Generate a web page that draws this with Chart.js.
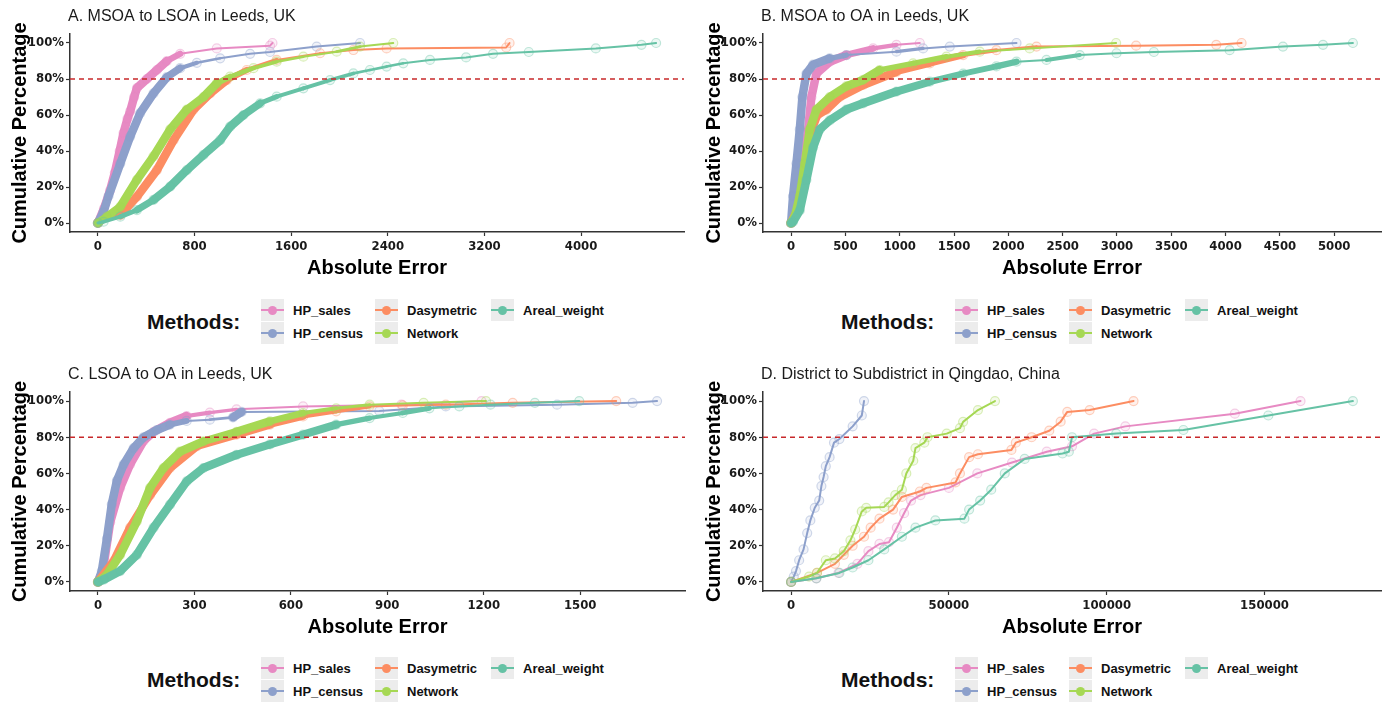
<!DOCTYPE html>
<html>
<head>
<meta charset="utf-8">
<script src="https://cdn.jsdelivr.net/npm/chart.js@4"></script>
<style>
  body { margin: 0; background: #fff; width: 1389px; height: 704px; position: relative; overflow: hidden;
         font-family: 'Liberation Sans', Arial, sans-serif; }
  canvas { position: absolute; }
  .lg { position: absolute; white-space: nowrap; color: #111; }
</style>
</head>
<body>
<canvas id="cA" width="694" height="290" style="left:0;top:0"></canvas>
<canvas id="cB" width="695" height="290" style="left:694px;top:0"></canvas>
<canvas id="cC" width="694" height="290" style="left:0;top:358px"></canvas>
<canvas id="cD" width="695" height="290" style="left:694px;top:358px"></canvas>
<script>
// methods and colours (Set2)
const methods = ['HP_sales', 'HP_census', 'Dasymetric', 'Network', 'Areal_weight'];
const methodColors = ['#E78AC3', '#8DA0CB', '#FC8D62', '#A6D854', '#66C2A5'];
const pctTicks = [0, 20, 40, 60, 80, 100];
const refPct = 80;

// tick labels of the x axes
const ticksA = [0, 800, 1600, 2400, 3200, 4000];
const ticksB = [0, 500, 1000, 1500, 2000, 2500, 3000, 3500, 4000, 4500, 5000];
const ticksC = [0, 300, 600, 900, 1200, 1500];
const ticksD = [0, 50000, 100000, 150000];

// [absolute error, cumulative %]
// A. MSOA to LSOA
const A_HP_sales = [[0,0],[50,8],[100,18],[140,28],[180,40],[212,50],[245,58],[267,62],[300,70],[323,75],[405,80],[488,85],[571,90],[681,94],[984,97],[1425,98.5],[1445,100]];
const A_HP_census = [[0,0],[45,6],[88,15],[185,33],[267,48],[350,61],[460,72],[571,81],[681,86],[819,89],[1012,91.5],[1260,94],[1425,95],[1811,98],[2170,100]];
const A_Dasymetric = [[0,0],[185,4.4],[323,14.6],[488,29.4],[626,46],[791,63],[929,72],[1067,79.4],[1232,85],[1480,90.6],[1839,94.3],[2115,96.1],[2390,97],[3380,97.5],[3408,100]];
const A_Network = [[0,0],[74,3.5],[185,9],[323,24],[460,37],[598,52],[736,63],[874,70],[984,77.6],[1094,81.3],[1288,86],[1480,89.6],[1701,92.4],[1977,95.2],[2170,98],[2445,100]];
const A_Areal_weight = [[0,0],[47,0.7],[185,3.5],[323,7.2],[460,12.8],[598,20.2],[736,29.4],[874,37.8],[1012,46],[1094,53.5],[1205,60],[1343,66.5],[1480,70.2],[1701,74.8],[1922,79.4],[2115,83.1],[2252,85],[2390,86.9],[2528,88.7],[2749,90.6],[3048,92],[3271,94],[3567,95],[4122,97],[4500,99],[4621,100]];

// B. MSOA to OA
const B_HP_sales = [[0,0],[49,5],[110,33],[157,52],[187,70],[233,83],[356,89.6],[509,93.3],[755,97],[970,99],[1185,100]];
const B_HP_census = [[0,0],[18,15],[49,33],[80,52],[104,70],[141,83],[203,88],[356,91.5],[509,93.3],[970,95.2],[1215,97],[1461,98],[2075,100]];
const B_Dasymetric = [[0,0],[80,10],[120,20],[160,40],[190,52],[240,60],[325,63],[448,70],[663,76.7],[970,84],[1277,88.7],[1584,93.3],[1890,96],[2259,98],[3176,98.5],[3914,99],[4147,100]];
const B_Network = [[0,0],[34,3.5],[80,15],[126,33],[172,52],[233,63],[356,70],[509,76],[663,79.5],[816,85],[1123,88.7],[1430,92.4],[1737,95.2],[2197,97],[2992,100]];
const B_Areal_weight = [[0,0],[18,0.7],[80,7],[141,24],[203,42],[264,52],[356,57],[509,63],[663,66.5],[970,73],[1277,78.5],[1584,83],[1890,87],[2075,89.6],[2351,90.6],[2658,93.3],[2996,94.3],[3340,95],[4037,96],[4528,98],[4897,99],[5172,100]];

// C. LSOA to OA
const C_HP_sales = [[0,0],[15,6],[38,33],[69,52],[100,65],[142,78],[173,83],[224,88],[276,91.7],[348,93.6],[431,95.4],[638,97],[944,98],[1193,100]];
const C_HP_census = [[0,0],[12,6],[28,24],[43,43],[59,56],[80,65],[111,74],[142,80],[183,84],[224,87],[276,89],[348,89.7],[420,91],[447,94],[875,94.5],[1082,97],[1428,98],[1663,99],[1739,100]];
const C_Dasymetric = [[0,0],[49,11.4],[100,30],[162,48],[224,63],[307,75],[431,81.4],[535,87],[638,91.5],[741,94.3],[845,97],[948,97.6],[1082,98],[1290,99],[1612,100]];
const C_Network = [[0,0],[28,4],[69,15],[121,33.5],[162,52],[204,63],[255,72],[328,77.7],[431,83],[535,88.8],[638,93.4],[741,96],[845,98],[1013,99],[1207,100]];
const C_Areal_weight = [[0,0],[18,1.3],[69,6],[121,15],[173,30],[224,42.7],[276,55.6],[328,63],[431,70.3],[535,76],[638,81.4],[741,87],[845,90.6],[948,93.4],[1031,96],[1124,97],[1221,98],[1359,99],[1497,100]];

// D. District to Subdistrict, Qingdao
const D_HP_sales = [[0,0],[8000,2],[15000,5],[21000,10],[24500,17],[28000,21],[31000,22],[33500,30],[35800,38],[38000,45],[41000,48],[50000,52],[59000,60],[70000,66],[81000,72],[89000,75],[96000,82],[105900,86],[140600,93],[161400,100]];
const D_HP_census = [[0,0],[850,3],[1550,6],[2550,12],[3950,18],[5100,27],[6100,34],[7500,41],[8900,45],[9600,53],[10300,58],[11000,64],[12200,69],[13600,77],[15300,79],[19500,86],[22400,92],[23100,100]];
const D_Dasymetric = [[0,0],[8200,5],[13900,10],[16700,15],[19500,20],[23100,25],[25200,30],[28000,35],[32300,40],[35100,47],[40800,50],[42900,52],[52100,55],[53500,60],[56400,69],[59200,70.6],[69800,73],[71200,77],[76200,80],[81800,83.6],[85400,88.6],[87500,94],[94600,95],[108500,100]];
const D_Network = [[0,0],[5700,3],[8200,5],[11000,12],[13900,13],[16700,17],[18800,23],[20300,29],[22400,39],[23800,41],[29500,41.5],[30900,44],[33000,48],[35100,51],[36500,60],[38700,67],[39400,74],[42200,77],[43200,80],[49300,82],[53500,85],[54500,88.5],[59200,95],[64600,100]];
const D_Areal_weight = [[0,0],[8000,2],[15300,5],[19500,8],[24500,12],[29500,18],[35100,25],[39400,30],[45700,34],[54900,35],[56400,40],[59900,45],[63400,51],[67700,60],[74000,68],[86000,71],[88000,72],[89000,80],[103000,82],[124300,84],[151200,92],[178000,100]];

// how crowded the points are on each panel (drives the band width)
const crowdA = 482, crowdB = 1000, crowdC = 1000, crowdD = 60;

const fontFam = "'Liberation Sans', Arial, sans-serif";
const tickFam = "'Liberation Sans Narrow', 'Arial Narrow', 'DejaVu Sans Condensed', 'Liberation Sans', sans-serif";
const axisColor = '#333333';

const withAlpha = (hex, a) =>
  `rgba(${parseInt(hex.slice(1, 3), 16)}, ${parseInt(hex.slice(3, 5), 16)}, ${parseInt(hex.slice(5, 7), 16)}, ${a})`;

// thick band where the real points crowd together
const bandWidth = (c, pts, n) => {
  if (c.p1DataIndex === pts.length - 1) return 2;
  const dp = Math.abs(pts[c.p1DataIndex][1] - pts[c.p0DataIndex][1]) / 100;
  const dist = Math.hypot(c.p1.x - c.p0.x, c.p1.y - c.p0.y) || 1;
  const rate = n * dp / dist;
  return Math.max(2, Math.min(8.5, 2 + (rate - 0.4) * 5));
};

const refLine = {
  id: 'refLine',
  afterDatasetsDraw(chart) {
    const {ctx, chartArea, scales: {y}} = chart;
    const py = y.getPixelForValue(refPct);
    ctx.save();
    ctx.strokeStyle = '#c8282a';
    ctx.lineWidth = 1.5;
    ctx.setLineDash([5, 4]);
    ctx.beginPath();
    ctx.moveTo(chartArea.left, py);
    ctx.lineTo(chartArea.right, py);
    ctx.stroke();
    ctx.restore();
  }
};

const panelTitle = {
  id: 'panelTitle',
  afterDraw(chart, args, opts) {
    const {ctx, chartArea} = chart;
    ctx.save();
    ctx.font = '16px ' + fontFam;
    ctx.fillStyle = '#1a1a1a';
    ctx.textBaseline = 'middle';
    ctx.fillText(opts.text, chartArea.left - 2, opts.y);
    ctx.restore();
  }
};

const drawPanel = (id, title, series, xTicks, n, cfg) => {
  const xMax = Math.max(...series.map(s => s[s.length - 1][0]));
  const datasets = series.map((pts, i) => ({
    label: methods[i],
    data: pts.map(p => ({x: p[0], y: p[1]})),
    borderColor: methodColors[i],
    borderWidth: 2,
    borderJoinStyle: 'round',
    borderCapStyle: 'round',
    pointRadius: 4.5,
    pointBorderWidth: 1.2,
    pointBorderColor: withAlpha(methodColors[i], 0.4),
    pointBackgroundColor: withAlpha(methodColors[i], 0.12),
    order: series.length - 1 - i,
    segment: {borderWidth: c => bandWidth(c, pts, n)}
  }));
  new Chart(document.getElementById(id), {
    type: 'line',
    data: {datasets},
    plugins: [refLine, panelTitle],
    options: {
      responsive: false,
      animation: false,
      layout: {padding: {top: cfg.top, right: cfg.right, left: 0, bottom: 0}},
      plugins: {
        legend: {display: false},
        tooltip: {enabled: false},
        panelTitle: {text: title, y: 17}
      },
      scales: {
        x: {
          type: 'linear',
          min: -0.05 * xMax,
          max: 1.05 * xMax,
          afterBuildTicks: s => { s.ticks = xTicks.map(v => ({value: v})); },
          afterFit: s => { s.height = cfg.xh; },
          grid: {drawOnChartArea: false, drawTicks: true, tickLength: 4, tickColor: axisColor, tickWidth: 1.2},
          border: {color: axisColor, width: 1.5},
          ticks: {font: {family: tickFam, size: 13, weight: 'bold'}, color: '#1a1a1a', padding: 3,
                  maxRotation: 0, autoSkip: false, callback: v => String(v)},
          title: {display: true, text: 'Absolute Error', color: '#000',
                  font: {family: fontFam, size: 20, weight: 'bold'}, padding: {top: 0, bottom: cfg.xtp}}
        },
        y: {
          type: 'linear',
          min: -5,
          max: 105,
          afterBuildTicks: s => { s.ticks = pctTicks.map(v => ({value: v})); },
          afterFit: s => { s.width = cfg.yw; },
          grid: {drawOnChartArea: false, drawTicks: true, tickLength: 4, tickColor: axisColor, tickWidth: 1.2},
          border: {color: axisColor, width: 1.5},
          ticks: {font: {family: tickFam, size: 13, weight: 'bold'}, color: '#1a1a1a', padding: 2,
                  callback: v => v + '%'},
          title: {display: true, text: 'Cumulative Percentage', color: '#000',
                  font: {family: fontFam, size: 20, weight: 'bold'}, padding: {top: 8, bottom: 0}}
        }
      }
    }
  });
};

drawPanel('cA', 'A. MSOA to LSOA in Leeds, UK',
  [A_HP_sales, A_HP_census, A_Dasymetric, A_Network, A_Areal_weight], ticksA, crowdA,
  {top: 34, right: 10, xh: 58, yw: 70, xtp: 10});
drawPanel('cB', 'B. MSOA to OA in Leeds, UK',
  [B_HP_sales, B_HP_census, B_Dasymetric, B_Network, B_Areal_weight], ticksB, crowdB,
  {top: 34, right: 8, xh: 58, yw: 69, xtp: 10});
drawPanel('cC', 'C. LSOA to OA in Leeds, UK',
  [C_HP_sales, C_HP_census, C_Dasymetric, C_Network, C_Areal_weight], ticksC, crowdC,
  {top: 34, right: 9, xh: 57, yw: 70, xtp: 9});
drawPanel('cD', 'D. District to Subdistrict in Qingdao, China',
  [D_HP_sales, D_HP_census, D_Dasymetric, D_Network, D_Areal_weight], ticksD, crowdD,
  {top: 34, right: 8, xh: 57, yw: 69, xtp: 9});

// legends under each panel
const legendSlots = [[0, 0], [0, 1], [1, 0], [1, 1], [2, 0]];
const colKeyX = [261, 375, 491];
const addDiv = (parent, css, text) => {
  const d = document.createElement('div');
  d.style.cssText = css;
  if (text) d.textContent = text;
  parent.appendChild(d);
  return d;
};
const drawLegend = (ox, oy) => {
  addDiv(document.body, `left:${ox + 147}px;top:${oy + 309}px;font-size:21px;font-weight:bold;line-height:26px;`, 'Methods:')
    .className = 'lg';
  methods.forEach((m, i) => {
    const [col, row] = legendSlots[i];
    const kx = ox + colKeyX[col], ky = oy + 299 + row * 23;
    const key = addDiv(document.body, `position:absolute;left:${kx}px;top:${ky}px;width:23px;height:22px;background:#ececec;`);
    addDiv(key, `position:absolute;left:0;top:10px;width:23px;height:2px;background:${methodColors[i]};`);
    addDiv(key, `position:absolute;left:7px;top:7px;width:9px;height:9px;border-radius:50%;background:${methodColors[i]};`);
    addDiv(document.body, `left:${kx + 32}px;top:${ky}px;line-height:23px;font-size:13px;font-weight:bold;`, m)
      .className = 'lg';
  });
};
drawLegend(0, 0);
drawLegend(694, 0);
drawLegend(0, 358);
drawLegend(694, 358);
</script>
</body>
</html>
